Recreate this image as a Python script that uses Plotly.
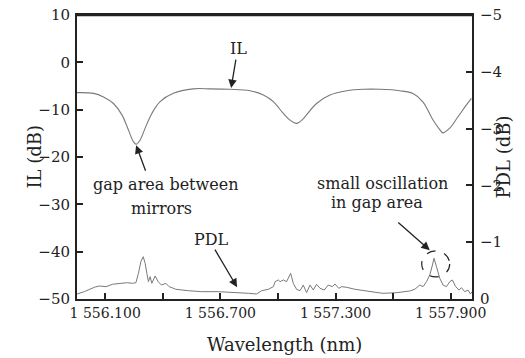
import plotly.graph_objects as go

# IL curve (left axis, dB)
il_wl = [1555.953, 1556.039, 1556.091, 1556.143, 1556.187, 1556.221, 1556.247, 1556.261,
         1556.282, 1556.308, 1556.343, 1556.386, 1556.455, 1556.559, 1556.646, 1556.750,
         1556.854, 1556.924, 1556.976, 1557.028, 1557.063, 1557.097, 1557.130, 1557.149,
         1557.201, 1557.271, 1557.358, 1557.444, 1557.531, 1557.635, 1557.704, 1557.756,
         1557.808, 1557.843, 1557.860, 1557.895, 1557.938, 1557.982, 1558.008]
il_db = [-6.4, -6.55, -7.3, -8.7, -11.1, -14.3, -16.8, -17.3,
         -16.4, -13.9, -10.8, -8.3, -6.55, -5.6, -5.6, -5.7,
         -6.0, -6.9, -8.3, -10.8, -12.2, -12.9, -12.0, -11.1,
         -8.7, -6.9, -6.0, -5.7, -5.7, -6.0, -6.6, -8.4,
         -12.2, -14.2, -14.9, -13.9, -11.5, -9.0, -7.6]

# PDL curve (right axis, as printed: 0 at bottom, -5 at top)
pdl_wl = [1555.953, 1555.991, 1556.043, 1556.069, 1556.104, 1556.138, 1556.182, 1556.216,
          1556.242, 1556.260, 1556.273, 1556.286, 1556.298, 1556.308, 1556.317, 1556.325,
          1556.334, 1556.343, 1556.360, 1556.376, 1556.393, 1556.416, 1556.433, 1556.450,
          1556.468, 1556.533, 1556.603, 1556.689, 1556.776, 1556.846, 1556.889, 1556.915,
          1556.950, 1556.976, 1556.985, 1557.002, 1557.011, 1557.028, 1557.045, 1557.057,
          1557.066, 1557.080, 1557.097, 1557.115, 1557.132, 1557.149, 1557.167, 1557.184,
          1557.201, 1557.219, 1557.241, 1557.262, 1557.283, 1557.297, 1557.317, 1557.332,
          1557.358, 1557.401, 1557.453, 1557.522, 1557.548, 1557.618, 1557.687, 1557.713,
          1557.739, 1557.756, 1557.774, 1557.791, 1557.805, 1557.813, 1557.826, 1557.843,
          1557.860, 1557.878, 1557.895, 1557.909, 1557.926, 1557.943, 1557.956, 1557.973,
          1557.990, 1558.003, 1558.011]
pdl_db = [-0.088, -0.129, -0.206, -0.229, -0.217, -0.259, -0.276, -0.287,
          -0.276, -0.287, -0.452, -0.657, -0.745, -0.629, -0.452, -0.305,
          -0.393, -0.276, -0.405, -0.305, -0.246, -0.276, -0.217, -0.188,
          -0.171, -0.146, -0.129, -0.129, -0.118, -0.100, -0.088, -0.146,
          -0.171, -0.217, -0.305, -0.335, -0.305, -0.335, -0.305, -0.405,
          -0.452, -0.276, -0.171, -0.146, -0.246, -0.111, -0.246, -0.158,
          -0.259, -0.188, -0.158, -0.246, -0.217, -0.264, -0.188, -0.217,
          -0.206, -0.171, -0.141, -0.111, -0.100, -0.111, -0.141, -0.171,
          -0.246, -0.217, -0.305, -0.423, -0.599, -0.717, -0.569, -0.364,
          -0.246, -0.217, -0.305, -0.335, -0.217, -0.158, -0.199, -0.129,
          -0.158, -0.088, -0.129]

x_tickvals = [1556.1, 1556.4, 1556.7, 1557.0, 1557.3, 1557.6, 1557.9]
x_ticktext = ["1 556.100", "", "1 556.700", "", "1 557.300", "", "1 557.900"]
il_ticks = [10, 0, -10, -20, -30, -40, -50]
pdl_ticks = [-5, -4, -3, -2, -1, 0]
pdl_ticktext = ["\u22125", "\u22124", "\u22123", "\u22122", "\u22121", "0"]

FONT = "DejaVu Serif"
INK = "#222222"
CURVE = "#7a7a7a"

fig = go.Figure()
fig.add_trace(go.Scatter(x=il_wl, y=il_db, mode="lines", line=dict(color=CURVE, width=1.1),
                         line_shape="spline", showlegend=False, yaxis="y"))
fig.add_trace(go.Scatter(x=pdl_wl, y=pdl_db, mode="lines", line=dict(color=CURVE, width=1),
                         showlegend=False, yaxis="y2"))

axis_common = dict(showline=True, linecolor=INK, linewidth=2, ticks="inside", ticklen=6,
                   tickcolor=INK, tickwidth=1.5, showgrid=False, zeroline=False, automargin=False,
                   ticklabeloverflow="allow")
tick_font_y = dict(family=FONT, size=15, color=INK)
tick_font_x = dict(family=FONT, size=14, color=INK)

fig.update_layout(
    width=525, height=358,
    margin=dict(l=77, r=53, t=15, b=59),
    paper_bgcolor="white", plot_bgcolor="white",
    font=dict(family=FONT, color=INK),
    xaxis=dict(range=[1555.953, 1558.011], tickvals=x_tickvals, ticktext=x_ticktext,
               mirror=True, tickfont=tick_font_x, **axis_common),
    yaxis=dict(range=[-50, 10], tickvals=il_ticks, ticklabelstandoff=2, tickfont=tick_font_y,
               **axis_common),
    yaxis2=dict(range=[0, -5], tickvals=pdl_ticks, ticktext=pdl_ticktext, overlaying="y", side="right",
                ticklabelstandoff=3, tickfont=tick_font_y, **axis_common),
)

# top frame line, placed on the top edge of the IL axis range
fig.add_shape(type="line", xref="paper", yref="y", x0=0, x1=1, y0=10, y1=10,
              line=dict(color=INK, width=2.5), layer="above")

title_font = dict(family=FONT, size=18, color=INK)
fig.add_annotation(text="Wavelength (nm)", xref="paper", yref="paper", x=0.525, y=0,
                   yshift=-45, yanchor="middle", showarrow=False, font=title_font)
fig.add_annotation(text="IL (dB)", xref="paper", yref="paper", x=0, y=0.5, xshift=-56,
                   textangle=-90, showarrow=False, font=title_font)
fig.add_annotation(text="PDL (dB)", xref="paper", yref="paper", x=1, y=0.5, xshift=43,
                   textangle=-90, showarrow=False, font=title_font)

ann_font = dict(family=FONT, size=16, color=INK)
texts = [
    ("IL", 1556.792, 3.0),
    ("gap area between", 1556.412, -25.9),
    ("mirrors", 1556.392, -30.8),
    ("PDL", 1556.652, -37.5),
    ("small oscillation", 1557.546, -25.5),
    ("in gap area", 1557.515, -29.7),
]
for t, x, y in texts:
    fig.add_annotation(x=x, y=y, xref="x", yref="y", text=t, showarrow=False, font=ann_font)

arrows = [
    (1556.756, -5.43, 5, -30),
    (1556.261, -17.5, 10, 27),
    (1556.787, -47.5, -23, -39),
    (1557.791, -39.7, -33, -29),
]
for x, y, ax, ay in arrows:
    fig.add_annotation(x=x, y=y, xref="x", yref="y", text="", showarrow=True, ax=ax, ay=ay,
                       arrowhead=2, arrowsize=1.3, arrowwidth=1.3, arrowcolor=INK)

fig.add_shape(type="circle", xref="x", yref="y", xsizemode="pixel", ysizemode="pixel",
              xanchor=1557.822, yanchor=-42.6, x0=-14, x1=14, y0=-13, y1=13,
              line=dict(color=INK, width=1.2, dash="dash"))

# remove the browser's default 8px page margin so the figure sits at the window's corner
fig.write_html("out.html", config={"displayModeBar": False},
               post_script="document.body.style.margin='0';")
